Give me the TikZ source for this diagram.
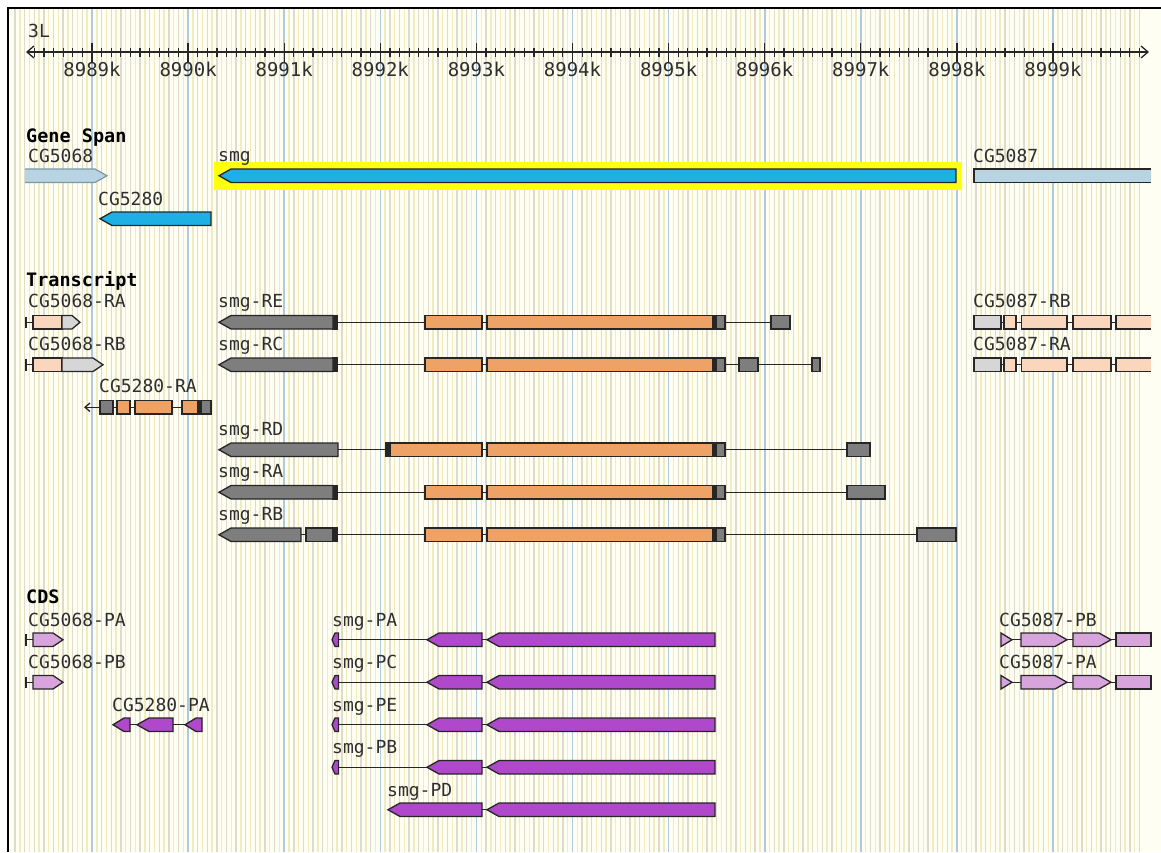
\documentclass[tikz,border=0pt]{standalone}
\usepackage{fontspec}
\newfontfamily\gbmono{DejaVu Sans Mono}
\definecolor{bg}{HTML}{FFFEF2}
\definecolor{gminor}{HTML}{DEDBCA}
\definecolor{ghalf}{HTML}{F1EBC4}
\definecolor{gmajor}{HTML}{AECBDE}
\definecolor{spanblue}{HTML}{1EB0E4}
\definecolor{fadeblue}{HTML}{B8D4E2}
\definecolor{fadeedge}{HTML}{7A98A8}
\definecolor{hl}{HTML}{FFFF10}
\definecolor{utr}{HTML}{7E7E7E}
\definecolor{cdsor}{HTML}{EFA266}
\definecolor{fadeutr}{HTML}{D6D6D6}
\definecolor{fadecds}{HTML}{F9D6BC}
\definecolor{cdspur}{HTML}{B048CC}
\definecolor{fadepur}{HTML}{D8A4DC}
\tikzset{
  lab/.style={font=\gbmono\fontsize{18}{18}\selectfont, anchor=base west, inner sep=0pt, text=black!82},
  hdr/.style={font=\gbmono\bfseries\fontsize{18.5}{18.5}\selectfont, anchor=base west, inner sep=0pt, text=black},
  ticklab/.style={font=\gbmono\fontsize{19}{19}\selectfont, anchor=base, inner sep=0pt, text=black!82},
  ol/.style={draw=black!85, line width=1.3pt, line join=miter},
  intron/.style={draw=black!85, line width=1.3pt},
}
% box: x1 x2 top fill
\newcommand\gbBox[4]{\draw[ol, fill=#4] (#1,#3) rectangle (#2,{#3+13.5});}
% left arrow: tip end top fill offset
\newcommand\gbL[5]{\draw[ol, fill=#4] (#1,{#3+6.75}) -- ({#1+#5},#3) -- (#2,#3) -- (#2,{#3+13.5}) -- ({#1+#5},{#3+13.5}) -- cycle;}
% right arrow: start tip top fill offset
\newcommand\gbR[5]{\draw[ol, fill=#4] (#1,#3) -- ({#2-#5},#3) -- (#2,{#3+6.75}) -- ({#2-#5},{#3+13.5}) -- (#1,{#3+13.5}) -- cycle;}
% intron line: x1 x2 top
\newcommand\gbLine[3]{\draw[intron] (#1,{#3+6.75}) -- (#2,{#3+6.75});}
% box open at right: x1 x2 top fill
\newcommand\gbOpen[4]{\fill[#4] (#1,#3) rectangle (#2,{#3+13.5}); \draw[ol] (#2,#3) -- (#1,#3) -- (#1,{#3+13.5}) -- (#2,{#3+13.5});}
% left bracket end: top
\newcommand\gbBrk[1]{\draw[intron] (26,{#1+1}) -- (26,{#1+12.5}); \draw[intron] (26,{#1+6.75}) -- (33,{#1+6.75});}
\begin{document}
\begin{tikzpicture}[x=1pt,y=-1pt]
\useasboundingbox (0,0) rectangle (1161,852);
\fill[white] (0,0) rectangle (1161,852);
\fill[bg] (8,8) rectangle (1161,852);
% grid
\foreach \k in {0,...,116} \draw[ghalf, line width=1.4pt] ({19.925+9.61*\k},9) -- ({19.925+9.61*\k},852);
\foreach \k in {0,...,117} \draw[gminor, line width=1.4pt] ({15.12+9.61*\k},9) -- ({15.12+9.61*\k},852);
\foreach \j in {0,...,10} \draw[gmajor, line width=1.6pt] ({92+96.1*\j},9) -- ({92+96.1*\j},852);
% frame
\draw[black, line width=2.5pt] (8,852) -- (8,8) -- (1161,8);
% ruler
\node[lab] (chr) at (28,37) {3L};
\coordinate (axl) at (27,52);
\coordinate (axr) at (1148,52);
\draw[black!85, line width=1.3pt] (axl) -- (axr);
\draw[black!85, line width=1.3pt] (34,46) -- (axl) -- (34,58);
\draw[black!85, line width=1.3pt] (1141,46) -- (axr) -- (1141,58);
\foreach \k in {0,...,115} \draw[black!85, line width=1.2pt] ({34.34+9.61*\k},48) -- ({34.34+9.61*\k},57);
\foreach \j [evaluate=\j as \kb using int(8989+\j)] in {0,...,10} {
  \draw[black!85, line width=1.3pt] ({92+96.1*\j},43) -- ({92+96.1*\j},62);
  \node[ticklab] (t\j) at ({92+96.1*\j},76) {\kb k};
}
% ---------------- Gene Span
\fill[fadeblue] (25,169) -- (95,169) -- (107,175.75) -- (95,182.5) -- (25,182.5) -- cycle;
\draw[fadeedge, line width=1.2pt] (25,169) -- (95,169) -- (107,175.75) -- (95,182.5) -- (25,182.5);
\fill[hl] (214,162) rectangle (962,190);
\gbL{219}{956}{169}{spanblue}{12}
\gbOpen{974}{1151}{169}{fadeblue}
\gbL{100}{211}{212}{spanblue}{12}
\node[hdr] (hgs) at (26,142) {Gene Span};
\node[lab] (lcg5068) at (28,162.5) {CG5068};
\node[lab] (lsmg) at (218,161.5) {smg};
\node[lab] (lcg5087) at (973,162.5) {CG5087};
\node[lab] (lcg5280) at (98,205) {CG5280};
% ---------------- Transcript
\node[hdr] (htr) at (26,286) {Transcript};
\node[lab] (l68ra) at (28,307.5) {CG5068-RA};
\node[lab] (lre) at (218,307.5) {smg-RE};
\node[lab] (l87rb) at (973,307.5) {CG5087-RB};
\node[lab] (l68rb) at (28,350) {CG5068-RB};
\node[lab] (lrc) at (218,350) {smg-RC};
\node[lab] (l87ra) at (973,350) {CG5087-RA};
\node[lab] (l80ra) at (99,392.5) {CG5280-RA};
\node[lab] (lrd) at (218,435) {smg-RD};
\node[lab] (lra) at (218,477.5) {smg-RA};
\node[lab] (lrb) at (218,520) {smg-RB};
% CG5068-RA / RB
\gbBrk{315.5}
\gbBox{33}{62}{315.5}{fadecds}
\gbR{62}{80}{315.5}{fadeutr}{8}
\gbBrk{358}
\gbBox{33}{62}{358}{fadecds}
\gbR{62}{103}{358}{fadeutr}{10}
% CG5280-RA
\draw[intron] (85,407.25) -- (100,407.25);
\draw[intron] (90,403) -- (85,407.25) -- (90,411.5);
\gbBox{100}{113}{400.5}{utr}
\gbLine{113}{117}{400.5}
\gbBox{117}{130}{400.5}{cdsor}
\gbLine{130}{135}{400.5}
\gbBox{135}{172}{400.5}{cdsor}
\gbLine{172}{182}{400.5}
\gbBox{182}{198}{400.5}{cdsor}
\gbBox{198}{201}{400.5}{black!85}
\gbBox{201}{211}{400.5}{utr}
% smg transcripts common core
\foreach \t in {315.5,358,485.5,528} {
  \gbBox{333}{337.5}{\t}{black!85}
  \gbLine{337.5}{425}{\t}
  \gbBox{425}{482}{\t}{cdsor}
}
\foreach \t in {315.5,358,443,485.5,528} {
  \gbLine{482}{487}{\t}
  \gbBox{487}{713}{\t}{cdsor}
  \gbBox{713}{716}{\t}{black!85}
  \gbBox{716}{725}{\t}{utr}
}
% smg-RE
\gbL{219}{333}{315.5}{utr}{12}
\gbLine{725}{771}{315.5}
\gbBox{771}{790}{315.5}{utr}
% smg-RC
\gbL{219}{333}{358}{utr}{12}
\gbLine{725}{739}{358}
\gbBox{739}{758}{358}{utr}
\gbLine{758}{812}{358}
\gbBox{812}{820}{358}{utr}
% smg-RD
\gbL{219}{338}{443}{utr}{12}
\gbLine{338}{386}{443}
\gbBox{386}{390.5}{443}{black!85}
\gbBox{390.5}{482}{443}{cdsor}
\gbLine{725}{847}{443}
\gbBox{847}{870}{443}{utr}
% smg-RA
\gbL{219}{333}{485.5}{utr}{12}
\gbLine{725}{847}{485.5}
\gbBox{847}{885}{485.5}{utr}
% smg-RB
\gbL{219}{301}{528}{utr}{12}
\gbLine{301}{306}{528}
\gbBox{306}{333}{528}{utr}
\gbLine{725}{917}{528}
\gbBox{917}{956}{528}{utr}
% CG5087-RB / RA
\foreach \t in {315.5,358} {
  \gbBox{974}{1001}{\t}{fadeutr}
  \gbLine{1001}{1004}{\t}
  \gbBox{1004}{1016}{\t}{fadecds}
  \gbLine{1016}{1021.5}{\t}
  \gbBox{1021.5}{1067}{\t}{fadecds}
  \gbLine{1067}{1073}{\t}
  \gbBox{1073}{1111}{\t}{fadecds}
  \gbLine{1111}{1116}{\t}
  \gbOpen{1116}{1151}{\t}{fadecds}
}
% ---------------- CDS
\node[hdr] (hcds) at (26,603) {CDS};
\node[lab] (l68pa) at (28,626) {CG5068-PA};
\node[lab] (lpa) at (332,626) {smg-PA};
\node[lab] (l87pb) at (999,626) {CG5087-PB};
\node[lab] (l68pb) at (28,668.5) {CG5068-PB};
\node[lab] (lpc) at (332,668.5) {smg-PC};
\node[lab] (l87pa) at (999,668.5) {CG5087-PA};
\node[lab] (l80pa) at (112,711) {CG5280-PA};
\node[lab] (lpe) at (332,711) {smg-PE};
\node[lab] (lpb) at (332,753.5) {smg-PB};
\node[lab] (lpd) at (387,796) {smg-PD};
% CG5068-PA / PB
\foreach \t in {633,675.5} {
  \gbBrk{\t}
  \gbR{33}{63}{\t}{fadepur}{10}
}
% CG5280-PA
\gbL{113}{130}{718}{cdspur}{11}
\gbLine{130}{137}{718}
\gbL{137}{173}{718}{cdspur}{12}
\gbLine{173}{185}{718}
\gbL{185}{202}{718}{cdspur}{11}
% smg CDS
\foreach \t in {633,675.5,718,760.5} {
  \gbL{332}{338.5}{\t}{cdspur}{3}
  \gbLine{338.5}{427}{\t}
  \gbL{427}{482}{\t}{cdspur}{12}
}
\gbL{388}{482}{803}{cdspur}{12}
\foreach \t in {633,675.5,718,760.5,803} {
  \gbLine{482}{487}{\t}
  \gbL{487}{715}{\t}{cdspur}{12}
}
% CG5087-PB / PA
\foreach \t in {633,675.5} {
  \gbR{1001}{1012}{\t}{fadepur}{11}
  \gbLine{1012}{1021}{\t}
  \gbR{1021}{1067}{\t}{fadepur}{12}
  \gbLine{1067}{1073}{\t}
  \gbR{1073}{1111}{\t}{fadepur}{12}
  \gbLine{1111}{1116}{\t}
  \gbBox{1116}{1151}{\t}{fadepur}
}
\end{tikzpicture}
\end{document}
